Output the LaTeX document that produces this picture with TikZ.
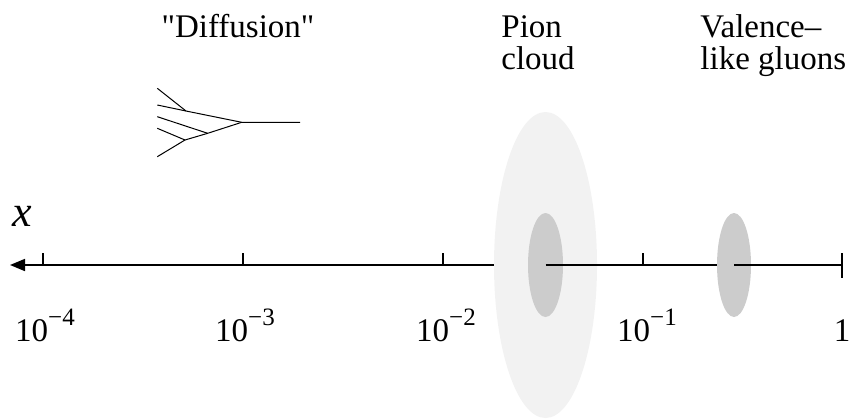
\documentclass[tikz,border=0pt]{standalone}
\usepackage{fontspec}
\setmainfont{Liberation Serif}
\newfontfamily\plainserif{Liberation Serif}
\usetikzlibrary{arrows.meta}
\definecolor{pionlight}{HTML}{F2F2F2}
\definecolor{blobdark}{HTML}{CCCCCC}
\newcommand\tenpow[1]{10\raisebox{8pt}{\fontsize{12.5}{12.5}\selectfont −#1}}
\begin{document}
\begin{tikzpicture}[x=0.5pt,y=-0.5pt,
  lbl/.style={inner sep=0pt, font=\fontsize{16.5}{16}\selectfont},
  axisline/.style={line width=0.85pt},
  tick/.style={line width=0.85pt},
  fan/.style={line width=0.5pt},
  light/.style={fill=pionlight},
  dark/.style={fill=blobdark}]
\useasboundingbox (0,0) rectangle (854,418);
% axis coordinates
\coordinate (tip) at (10,265);
\coordinate (t4) at (43,265);
\coordinate (t3) at (243,265);
\coordinate (t2) at (443,265);
\coordinate (t1) at (643,265);
\coordinate (t0) at (842,265);
\coordinate (P) at (545.5,265);
\coordinate (V) at (734,265);
% left part of axis with arrow
\draw[axisline,-{Triangle[length=7.5pt,width=6pt]}] (P) -- (tip);
\foreach \t in {t4,t3,t2} \draw[tick] (\t) -- ++(0,-12);
% pion cloud
\fill[light] (P) ellipse [x radius=25.75pt, y radius=76.5pt];
\fill[dark] (P) ellipse [x radius=8.75pt, y radius=26pt];
\draw[axisline] (P) -- (V);
\draw[tick] (t1) -- ++(0,-12);
% valence-like gluons
\fill[dark] (V) ellipse [x radius=8.5pt, y radius=26pt];
\draw[axisline] (V) -- (t0);
\draw[tick] (842,253) -- (842,278);
% fan ("diffusion")
\coordinate (J) at (241.7,122.3);
\coordinate (E) at (300,122.3);
\coordinate (A) at (186,111);
\coordinate (B) at (207.7,133.3);
\coordinate (C) at (185,140);
\coordinate (f1) at (157.3,88.3);
\coordinate (f2) at (157.3,105);
\coordinate (f3) at (157.3,116.7);
\coordinate (f4) at (157.3,128.3);
\coordinate (f5) at (157.3,156.7);
\draw[fan] (E) -- (J) -- (A) -- (f1);
\draw[fan] (A) -- (f2);
\draw[fan] (J) -- (B) -- (f3);
\draw[fan] (B) -- (C) -- (f4);
\draw[fan] (C) -- (f5);
% labels
\node[lbl, anchor=base] (diff) at (238,37) {\plainserif"Diffusion"};
\node[lbl, anchor=base west, align=left] (pion) at (501,69) {Pion\\cloud};
\node[lbl, anchor=base west, align=left] (val) at (700,69) {Valence–\\like gluons};
\node[inner sep=0pt, anchor=base west, font=\fontsize{22}{22}\selectfont\itshape] (xl) at (12,226) {x};
\node[lbl, anchor=base] (l4) at (45,341) {\tenpow{4}};
\node[lbl, anchor=base] (l3) at (245,341) {\tenpow{3}};
\node[lbl, anchor=base] (l2) at (446,341) {\tenpow{2}};
\node[lbl, anchor=base] (l1) at (647,341) {\tenpow{1}};
\node[lbl, anchor=base] (l0) at (842,341) {1};
\end{tikzpicture}
\end{document}
